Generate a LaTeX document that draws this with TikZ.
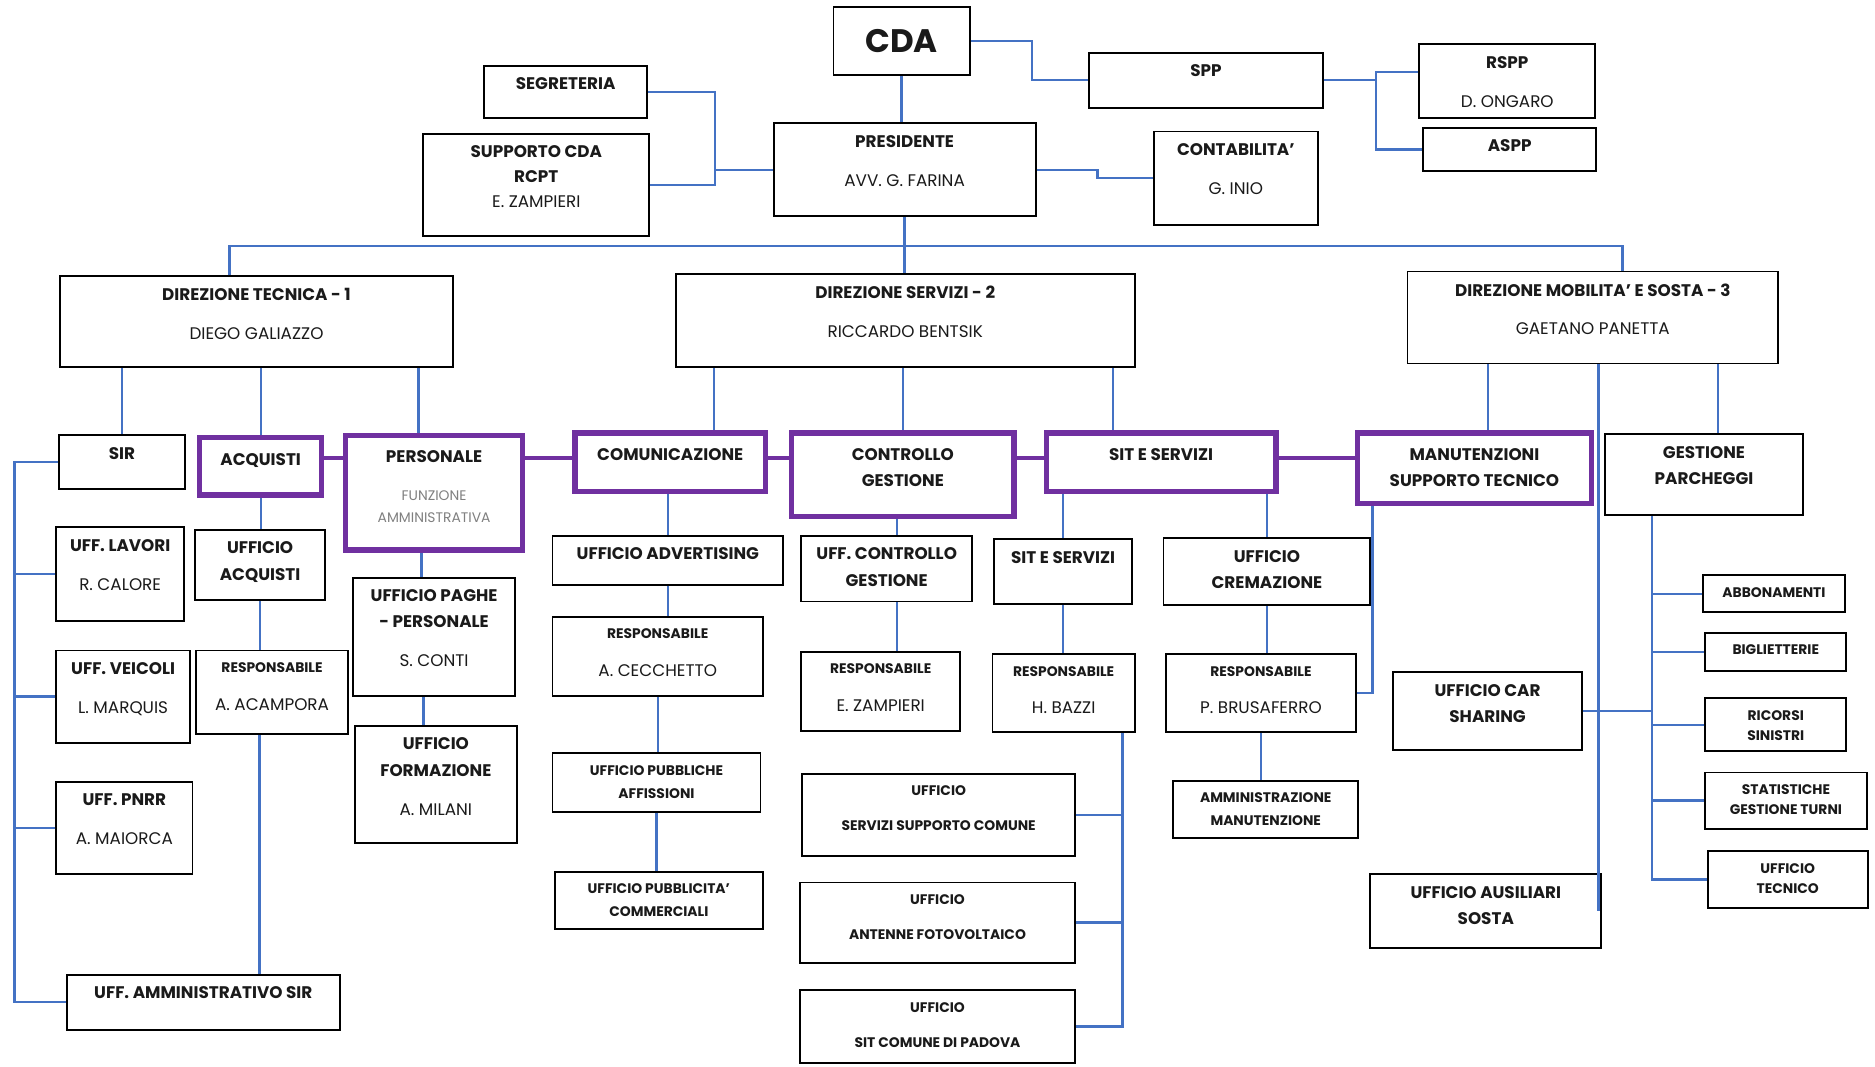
\documentclass[tikz,border=0pt]{standalone}
\usepackage{fontspec}
\setmainfont{Poppins}
\usetikzlibrary{fit,positioning}
\definecolor{linkblue}{HTML}{4472C4}
\definecolor{officeviolet}{HTML}{7030A0}
\definecolor{ink}{HTML}{1A1A1A}
\newcommand{\who}[1]{{\mdseries #1}}
\newcommand{\resp}{{\fontsize{6.6}{7}\selectfont RESPONSABILE}}
\begin{document}
\begin{tikzpicture}[x=0.02cm, y=-0.02cm,
    box/.style={draw=black, line width=0.9pt, inner sep=0pt},
    pbox/.style={draw=officeviolet, line width=2.6pt, inner sep=0pt},
    conn/.style={draw=linkblue, line width=1.1pt},
    pconn/.style={draw=officeviolet, line width=2pt},
    txt/.style={anchor=north, align=center, inner sep=0pt, text=ink},
    lbl/.style={txt, yshift=-6pt, font=\fontsize{8}{12.5}\selectfont\bfseries},
    plbl/.style={txt, yshift=-8.6pt, font=\fontsize{8}{12.5}\selectfont\bfseries},
    slbl/.style={txt, yshift=-6pt, font=\fontsize{6.6}{10.8}\selectfont\bfseries},
    cdatxt/.style={anchor=center, text=ink, font=\fontsize{15.5}{18}\selectfont\bfseries}]
\fill[white] (0,0) rectangle (1568,892);
\coordinate (bus) at (758,206);
\coordinate (chain) at (0,383);

% vertice
\node[box, fit={(697,6)(811,63)}, label={[cdatxt]center:CDA}] (cda) {};
\node[box, fit={(405,55)(541,99)}, label={[lbl]north:SEGRETERIA}] (seg) {};
\node[box, fit={(354,112)(543,197)}, label={[lbl, font=\fontsize{8}{11.7}\selectfont\bfseries]north:SUPPORTO CDA\\RCPT\\\who{E. ZAMPIERI}}] (supp) {};
\node[box, fit={(647,103)(866,181)}, label={[lbl]north:PRESIDENTE\\[6pt]\who{AVV. G. FARINA}}] (pres) {};
\node[box, fit={(911,44)(1106,90)}, label={[lbl]north:SPP}] (spp) {};
\node[box, fit={(1187,37)(1334,99)}, label={[lbl]north:RSPP\\[6pt]\who{D. ONGARO}}] (rspp) {};
\node[box, fit={(1190,107)(1335,143)}, label={[lbl]north:ASPP}] (aspp) {};
\node[box, fit={(965,110)(1102,188)}, label={[lbl]north:CONTABILITA'\\[6pt]\who{G. INIO}}] (cont) {};

% direzioni
\node[box, fit={(50,231)(379,307)}, label={[lbl]north:DIREZIONE TECNICA - 1\\[6pt]\who{DIEGO GALIAZZO}}] (dtec) {};
\node[box, fit={(565,229)(949,307)}, label={[lbl]north:DIREZIONE SERVIZI - 2\\[6pt]\who{RICCARDO BENTSIK}}] (dserv) {};
\node[box, fit={(1177,227)(1487,304)}, label={[lbl]north:DIREZIONE MOBILITA' E SOSTA - 3\\[6pt]\who{GAETANO PANETTA}}] (dmob) {};

% uffici
\node[box, fit={(49,364)(155,409)}, label={[lbl]north:SIR}] (sir) {};
\node[pbox, fit={(167,366)(269,414)}, label={[plbl]north:ACQUISTI}] (acq) {};
\node[pbox, fit={(289,364)(437,460)}, label={[plbl]north:PERSONALE\\[5.2pt]{\mdseries\color{gray}\fontsize{6.6}{7}\selectfont FUNZIONE}\\[-1.7pt]{\mdseries\color{gray}\fontsize{6.6}{7}\selectfont AMMINISTRATIVA}}] (pers) {};
\node[pbox, fit={(481,362)(640,411)}, label={[plbl]north:COMUNICAZIONE}] (comm) {};
\node[pbox, fit={(662,362)(848,432)}, label={[plbl]north:CONTROLLO\\GESTIONE}] (ctrl) {};
\node[pbox, fit={(875,362)(1067,411)}, label={[plbl]north:SIT E SERVIZI}] (sit) {};
\node[pbox, fit={(1135,362)(1331,421)}, label={[plbl]north:MANUTENZIONI\\SUPPORTO TECNICO}] (man) {};
\node[box, fit={(1342,363)(1508,431)}, label={[lbl]north:GESTIONE\\PARCHEGGI}] (gest) {};

\node[box, fit={(47,441)(154,519)}, label={[lbl]north:UFF. LAVORI\\[6pt]\who{R. CALORE}}] (lav) {};
\node[box, fit={(47,544)(159,621)}, label={[lbl]north:UFF. VEICOLI\\[6pt]\who{L. MARQUIS}}] (vei) {};
\node[box, fit={(47,654)(161,731)}, label={[lbl]north:UFF. PNRR\\[6pt]\who{A. MAIORCA}}] (pnrr) {};
\node[box, fit={(56,815)(284,861)}, label={[lbl]north:UFF. AMMINISTRATIVO SIR}] (amm) {};

\node[box, fit={(163,443)(272,502)}, label={[lbl]north:UFFICIO\\ACQUISTI}] (uacq) {};
\node[box, fit={(164,544)(291,614)}, label={[lbl]north:\resp\\[5.5pt]\who{A. ACAMPORA}}] (racq) {};

\node[box, fit={(295,483)(431,582)}, label={[lbl]north:UFFICIO PAGHE\\- PERSONALE\\[6pt]\who{S. CONTI}}] (paghe) {};
\node[box, fit={(297,607)(432,705)}, label={[lbl]north:UFFICIO\\FORMAZIONE\\[6pt]\who{A. MILANI}}] (form) {};

\node[box, fit={(462,448)(655,489)}, label={[lbl]north:UFFICIO ADVERTISING}] (adv) {};
\node[box, fit={(462,516)(638,582)}, label={[lbl]north:\resp\\[5.5pt]\who{A. CECCHETTO}}] (rcec) {};
\node[box, fit={(462,630)(636,679)}, label={[slbl]north:UFFICIO PUBBLICHE\\AFFISSIONI}] (paff) {};
\node[box, fit={(464,729)(638,777)}, label={[slbl]north:UFFICIO PUBBLICITA'\\COMMERCIALI}] (pcom) {};

\node[box, fit={(670,448)(813,503)}, label={[lbl]north:UFF. CONTROLLO\\GESTIONE}] (uctrl) {};
\node[box, fit={(670,545)(803,611)}, label={[lbl]north:\resp\\[5.5pt]\who{E. ZAMPIERI}}] (rzam) {};

\node[box, fit={(831,451)(947,505)}, label={[lbl]north:SIT E SERVIZI}] (ssit) {};
\node[box, fit={(830,547)(949,612)}, label={[lbl]north:\resp\\[5.5pt]\who{H. BAZZI}}] (rbaz) {};
\node[box, fit={(671,647)(899,716)}, label={[slbl]north:UFFICIO\\[6pt]SERVIZI SUPPORTO COMUNE}] (sup) {};
\node[box, fit={(669,738)(899,805)}, label={[slbl]north:UFFICIO\\[6pt]ANTENNE FOTOVOLTAICO}] (ant) {};
\node[box, fit={(669,828)(899,889)}, label={[slbl]north:UFFICIO\\[6pt]SIT COMUNE DI PADOVA}] (pad) {};

\node[box, fit={(973,450)(1146,506)}, label={[lbl]north:UFFICIO\\CREMAZIONE}] (crem) {};
\node[box, fit={(975,547)(1134,612)}, label={[lbl]north:\resp\\[5.5pt]\who{P. BRUSAFERRO}}] (rbru) {};
\node[box, fit={(981,653)(1136,701)}, label={[slbl]north:AMMINISTRAZIONE\\MANUTENZIONE}] (ammman) {};

\node[box, fit={(1165,562)(1323,627)}, label={[lbl]north:UFFICIO CAR\\SHARING}] (car) {};
\node[box, fit={(1146,731)(1339,793)}, label={[lbl]north:UFFICIO AUSILIARI\\SOSTA}] (aus) {};

\node[box, fit={(1424,481)(1543,512)}, label={[slbl]north:ABBONAMENTI}] (abb) {};
\node[box, fit={(1426,529)(1544,561)}, label={[slbl]north:BIGLIETTERIE}] (bigl) {};
\node[box, fit={(1426,584)(1544,628)}, label={[slbl, font=\fontsize{6.6}{9.7}\selectfont\bfseries]north:RICORSI\\SINISTRI}] (ric) {};
\node[box, fit={(1426,646)(1561,693)}, label={[slbl, font=\fontsize{6.6}{9.7}\selectfont\bfseries]north:STATISTICHE\\GESTIONE TURNI}] (stat) {};
\node[box, fit={(1428,712)(1562,759)}, label={[slbl, font=\fontsize{6.6}{9.7}\selectfont\bfseries]north:UFFICIO\\TECNICO}] (utec) {};

% collegamenti in alto
\draw[conn] (cda.east) -- ++(51,0) |- (spp.west);
\draw[conn] (cda.south) -- (cda.south |- pres.north);
\draw[conn] (seg.east) -- ++(56,0) coordinate (segj) |- (supp.east);
\draw[conn] (pres.west) -- (pres.west -| segj);
\draw[conn] (pres.east) -- ++(51,0) |- (cont.west);
\draw[conn] (spp.east) -- ++(44,0) coordinate (sppj) |- ([yshift=4.5pt]rspp.west);
\draw[conn] (sppj) |- (aspp.west);
\draw[conn] (pres.south) -- (pres.south |- dserv.north);
\draw[conn] ([xshift=-12.8pt]dtec.north) |- (bus) -| ([xshift=14.2pt]dmob.north);

% discese dalle direzioni
\draw[conn] (sir.north |- dtec.south) -- (sir.north);
\draw[conn] (acq.north |- dtec.south) -- (acq.north);
\draw[conn] ([xshift=-7.4pt]pers.north |- dtec.south) -- ([xshift=-7.4pt]pers.north);
\draw[conn] ([xshift=20.8pt]comm.north |- dserv.south) -- ([xshift=20.8pt]comm.north);
\draw[conn] (ctrl.north |- dserv.south) -- (ctrl.north);
\draw[conn] ([xshift=-22.8pt]sit.north |- dserv.south) -- ([xshift=-22.8pt]sit.north);
\draw[conn] ([xshift=6.3pt]man.north |- dmob.south) -- ([xshift=6.3pt]man.north);
\draw[conn] ([xshift=6.8pt]gest.north |- dmob.south) -- ([xshift=6.8pt]gest.north);
\draw[conn] ([xshift=-1.7pt]aus.east |- dmob.south) -- ([xshift=-1.7pt]aus.east);

\foreach \a/\b in {acq/pers,pers/comm,comm/ctrl,ctrl/sit,sit/man}
    \draw[pconn] (\a.east |- chain) -- (\b.west |- chain);

% SIR
\draw[conn] (sir.west) -- ++(-36,0) coordinate (sirj) |- (amm.west);
\foreach \n in {lav,vei,pnrr}
    \draw[conn] (\n.west) -- (\n.west -| sirj);

% acquisti, personale
\draw[conn] (acq.south) -- (acq.south |- uacq.north);
\draw[conn] (uacq.south) -- (uacq.south |- racq.north);
\draw[conn] ([xshift=-6pt]racq.south) -- ([xshift=-6pt]racq.south |- amm.north);
\draw[conn] ([xshift=-6pt]paghe.north |- pers.south) -- ([xshift=-6pt]paghe.north);
\draw[conn] ([xshift=-5pt]paghe.south) -- ([xshift=-5pt]paghe.south |- form.north);

% comunicazione, controllo
\draw[conn] (adv.north |- comm.south) -- (adv.north);
\draw[conn] (adv.south) -- (adv.south |- rcec.north);
\draw[conn] (rcec.south) -- (rcec.south |- paff.north);
\draw[conn] (paff.south) -- (paff.south |- pcom.north);
\draw[conn] ([xshift=5pt]uctrl.north |- ctrl.south) -- ([xshift=5pt]uctrl.north);
\draw[conn] ([xshift=5pt]uctrl.south) -- ([xshift=5pt]uctrl.south |- rzam.north);

% sit e servizi
\draw[conn] (ssit.north |- sit.south) -- (ssit.north);
\draw[conn] (ssit.south) -- (ssit.south |- rbaz.north);
\draw[conn] ([xshift=-6.3pt]rbaz.south east) coordinate (sitj) |- (pad.east);
\foreach \n in {sup,ant}
    \draw[conn] (\n.east) -- (\n.east -| sitj);
\draw[conn] (crem.north |- sit.south) -- (crem.north);
\draw[conn] (crem.south) -- (crem.south |- rbru.north);
\draw[conn] (rbru.south) -- (rbru.south |- ammman.north);
\draw[conn] ([xshift=8.5pt]man.south west) |- (rbru.east);

% parcheggi
\draw[conn] ([xshift=22.8pt]gest.south west) coordinate (gestj) |- (utec.west);
\foreach \n in {abb,bigl,ric,stat}
    \draw[conn] (\n.west) -- (\n.west -| gestj);
\draw[conn] (car.east) -- (car.east -| gestj);
\end{tikzpicture}
\end{document}
